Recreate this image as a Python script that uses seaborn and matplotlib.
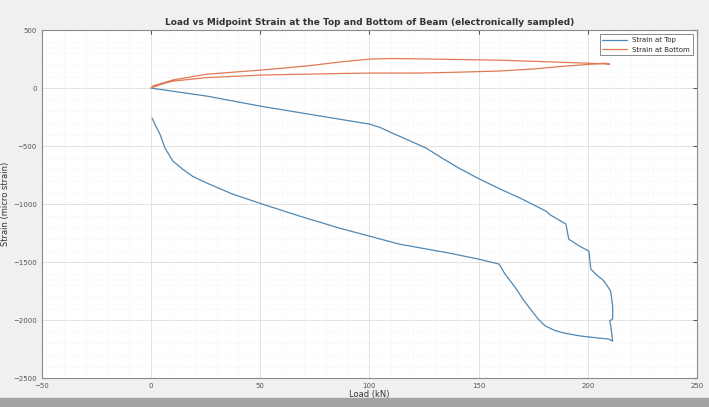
import numpy as np
import pandas as pd
import matplotlib
matplotlib.use("Agg")
import matplotlib.pyplot as plt
import seaborn as sns
from matplotlib.patches import Rectangle
from matplotlib.ticker import MultipleLocator

#  Data (loading then unloading path) 
top_load = [0, 25.6, 50, 75, 100, 105, 110.5, 118, 126, 133, 141, 150, 159,
            170, 180.8, 183, 190, 191.3, 196, 200.5, 201.4, 204, 207.3, 210.5,
            211.4, 211.4, 210, 210.5, 211.4,
            209.6, 197, 190, 185, 180.5, 177.5, 174.4, 170.5, 167, 162, 159.4,
            150, 136.5, 113.7, 86.3, 68, 51, 37.4, 25.6, 19, 14.6, 10, 6.4,
            4.1, 2, 0.5]
top_strain = [0, -69, -155, -233, -310, -340, -388, -450, -517, -600, -690,
              -780, -862, -957, -1060, -1095, -1172, -1302, -1360, -1405,
              -1560, -1610, -1660, -1750, -1880, -1990, -2008, -2043, -2181,
              -2164, -2138, -2115, -2090, -2050, -1995, -1922, -1825, -1724,
              -1600, -1517, -1474, -1422, -1345, -1207, -1103, -1000, -914,
              -819, -760, -700, -629, -517, -397, -320, -259]

bot_load = [0, 5, 10, 25, 50, 75, 100, 123, 140, 159, 175, 190, 208, 210,
            209.6, 200, 180, 159, 123, 110, 100, 86, 71, 50, 25.5, 10, 0.5]
bot_strain = [0, 35, 60, 90, 112, 122, 130, 130, 137, 147, 165, 190, 215, 207,
              207, 215, 228, 241, 252, 255, 250, 224, 190, 155, 120, 70, 17]

labels = ["Strain at Top", "Strain at Bottom"]

df = pd.concat([
    pd.DataFrame({"load": top_load, "strain": top_strain, "series": labels[0]}),
    pd.DataFrame({"load": bot_load, "strain": bot_strain, "series": labels[1]}),
], ignore_index=True)

#  Plot 
sns.set_style("white")
fig = plt.figure(figsize=(7.09, 4.07), dpi=100, facecolor="#f0f0f0")
ax = fig.add_axes([0.059, 0.071, 0.924, 0.855])

sns.lineplot(data=df, x="load", y="strain", hue="series", sort=False,
             estimator=None, palette=["#5088b3", "#e07a55"], linewidth=0.9, ax=ax)

ax.set_xlim(-50, 250)
ax.set_ylim(-2500, 500)
ax.xaxis.set_major_locator(MultipleLocator(50))
ax.yaxis.set_major_locator(MultipleLocator(500))
ax.xaxis.set_minor_locator(MultipleLocator(10))
ax.yaxis.set_minor_locator(MultipleLocator(100))
ax.grid(True, which="major", color="#dddddd", linewidth=0.6)
ax.grid(True, which="minor", color="#ececec", linewidth=0.5, linestyle=":")
ax.tick_params(which="both", direction="in", top=True, right=True,
               labelsize=5, colors="#555555", length=3)
ax.tick_params(which="minor", length=0)
for s in ax.spines.values():
    s.set_color("#8a8a8a")
    s.set_linewidth(0.8)

ax.set_title("Load vs Midpoint Strain at the Top and Bottom of Beam (electronically sampled)",
             fontsize=6.5, fontweight="bold", color="#333333", pad=4)
ax.set_xlabel("Load (kN)", fontsize=6, color="#333333", labelpad=1)
ax.set_ylabel("Strain (micro strain)", fontsize=6, color="#333333", labelpad=2)

leg = ax.legend(loc="upper right", fontsize=5, frameon=True, fancybox=False,
                edgecolor="#555555", handlelength=3.5, borderaxespad=0.6)
leg.get_frame().set_linewidth(0.6)

fig.add_artist(Rectangle((0, 0), 1, 0.022, transform=fig.transFigure,
                         color="#a3a3a3", zorder=-1))

plt.savefig("out.png", dpi=100, facecolor=fig.get_facecolor())
